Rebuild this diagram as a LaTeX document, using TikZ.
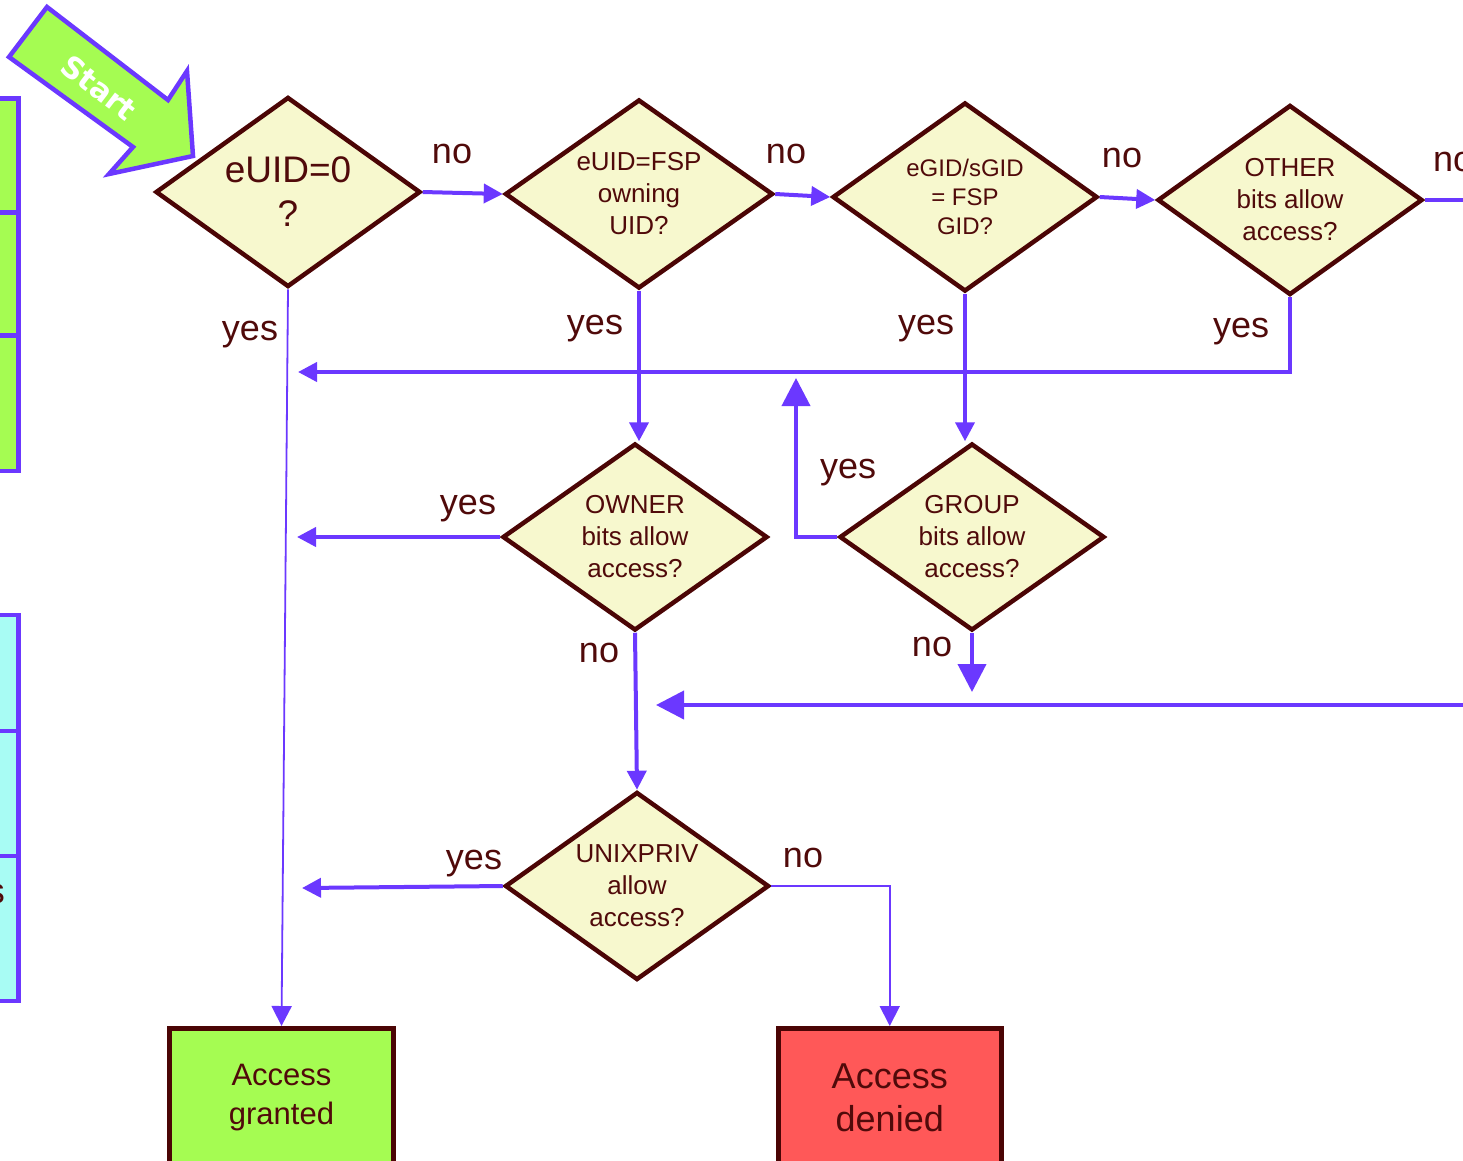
\documentclass[tikz,border=0pt]{standalone}
\usepackage{fontspec}
\setmainfont{Liberation Sans}
\newfontfamily\startfont{DejaVu Sans}
\usetikzlibrary{shapes.geometric,arrows.meta}
\definecolor{cviolet}{RGB}{107,56,255}
\definecolor{cmaroon}{RGB}{75,5,5}
\definecolor{ctext}{RGB}{80,10,10}
\definecolor{cdia}{RGB}{247,248,206}
\definecolor{cgreen}{RGB}{165,252,82}
\definecolor{ccyan}{RGB}{168,252,244}
\definecolor{cred}{RGB}{255,88,88}
\begin{document}
\begin{tikzpicture}[x=1pt,y=-1pt,
  dia/.style={diamond, aspect=1.4, draw=cmaroon, fill=cdia, line width=4.5pt, inner sep=0pt, align=center, text=ctext},
  endbox/.style={rectangle, draw=cmaroon, line width=5pt, inner sep=0pt, align=center, text=ctext},
  panel/.style={draw=cviolet, line width=4.5pt},
  conn/.style={draw=cviolet, line width=4pt, -{Triangle[length=19pt,width=19pt]}},
  bigconn/.style={draw=cviolet, line width=4pt, -{Triangle[length=28pt,width=28pt]}},
  plainconn/.style={draw=cviolet, line width=4pt},
  thinconn/.style={draw=cviolet, line width=1.8pt, -{Triangle[length=20pt,width=20pt]}},
  lbl/.style={text=ctext, font=\fontsize{36}{43}\selectfont, inner sep=0pt},
  startshape/.style={draw=cviolet, fill=cgreen, line width=4.5pt, line join=miter},
  starttext/.style={text=white, font=\startfont\bfseries\fontsize{30}{36}\selectfont, rotate=-37.5, inner sep=0pt}
]
\useasboundingbox (0,0) rectangle (1463,1160);
\clip (0,0) rectangle (1463,1160);

% left panels (cut off by the edge)
\draw[panel, fill=cgreen] (-20,98.5) rectangle (18.5,212.5);
\draw[panel, fill=cgreen] (-20,212.5) rectangle (18.5,335.5);
\draw[panel, fill=cgreen] (-20,335.5) rectangle (18.5,471);
\draw[panel, fill=ccyan] (-20,615) rectangle (18.5,731);
\draw[panel, fill=ccyan] (-20,731) rectangle (18.5,856);
\draw[panel, fill=ccyan] (-20,856) rectangle (18.5,1001);
\node[lbl, anchor=east] (cuts) at (5,894) {s};

% start arrow
\draw[startshape] (47,7) -- (168,100) -- (187,71) -- (193,156) -- (109,174) -- (133,147) -- (9,57) -- cycle;
\node[starttext] (start) at (99,88) {Start};

% decisions
\node[dia, minimum width=265pt, minimum height=190pt, font=\fontsize{37}{44}\selectfont] (d1) at (288,192) {eUID=0\\?};
\node[dia, minimum width=268pt, minimum height=189pt, font=\fontsize{26}{32}\selectfont] (d2) at (639,194) {eUID=FSP\\owning\\UID?};
\node[dia, minimum width=265pt, minimum height=189pt, font=\fontsize{24}{29}\selectfont] (d3) at (965,197) {eGID/sGID\\= FSP\\GID?};
\node[dia, minimum width=265pt, minimum height=190pt, font=\fontsize{26}{32}\selectfont] (d4) at (1290,200) {OTHER\\bits allow\\access?};
\node[dia, minimum width=265pt, minimum height=187pt, font=\fontsize{26}{32}\selectfont] (owner) at (635,537) {OWNER\\bits allow\\access?};
\node[dia, minimum width=265pt, minimum height=187pt, font=\fontsize{26}{32}\selectfont] (group) at (972,537) {GROUP\\bits allow\\access?};
\node[dia, minimum width=264pt, minimum height=188pt, font=\fontsize{26}{32}\selectfont] (unix) at (637,886) {UNIXPRIV\\allow\\access?};

% results
\node[endbox, fill=cgreen, minimum width=224pt, minimum height=138pt, font=\fontsize{31}{39}\selectfont] (granted) at (281.5,1097.5) {Access\\granted};
\node[endbox, fill=cred, minimum width=222.5pt, minimum height=138pt, font=\fontsize{36}{43}\selectfont] (denied) at (889.75,1097.5) {Access\\denied};

% free ends
\coordinate (offR1) at (1480,200);
\coordinate (gyes) at (298,372);
\coordinate (oyes) at (297,537);
\coordinate (upA) at (796,378);
\coordinate (gno) at (972,692);
\coordinate (offR2) at (1480,705);
\coordinate (noin) at (656,705);
\coordinate (uyes) at (302,888);

% connectors
\draw[conn] (d1.east) -- (d2.west);
\draw[conn] (d2.east) -- (d3.west);
\draw[conn] (d3.east) -- (d4.west);
\draw[plainconn] (d4.east) -- (offR1);
\draw[thinconn] (d1.south) -- (granted.north);
\draw[conn] (d2.south) -- (d2.south |- owner.north);
\draw[conn] (d3.south) -- (d3.south |- group.north);
\draw[conn] (d4.south) |- (gyes);
\draw[conn] (owner.west) -- (oyes);
\draw[bigconn] (group.west) -| (upA);
\draw[conn] (owner.south) -- (unix.north);
\draw[bigconn] (group.south) -- (gno);
\draw[bigconn] (offR2) -- (noin);
\draw[conn] (unix.west) -- (uyes);
\draw[thinconn] (unix.east) -| (denied.north);

% labels
\node[lbl] (l1) at (452,154) {no};
\node[lbl] (l2) at (786,154) {no};
\node[lbl] (l3) at (1122,158) {no};
\node[lbl, anchor=west] (l4) at (1433,162) {no};
\node[lbl] (l5) at (250,335) {yes};
\node[lbl] (l6) at (595,329) {yes};
\node[lbl] (l7) at (926,329) {yes};
\node[lbl] (l8) at (1241,332) {yes};
\node[lbl] (l9) at (468,509) {yes};
\node[lbl] (l10) at (848,473) {yes};
\node[lbl] (l11) at (599,653) {no};
\node[lbl] (l12) at (932,647) {no};
\node[lbl] (l13) at (474,864) {yes};
\node[lbl] (l14) at (803,858) {no};
\end{tikzpicture}
\end{document}
